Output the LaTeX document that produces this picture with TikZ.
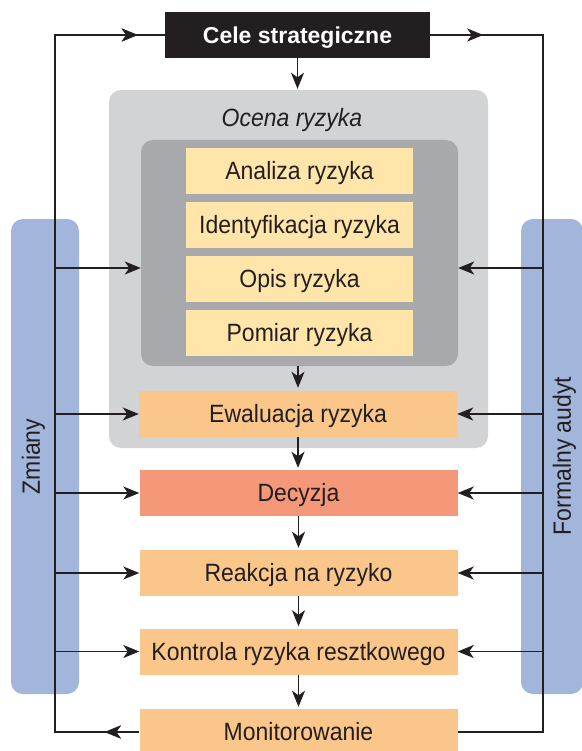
\documentclass[tikz,border=0pt]{standalone}
\usepackage{fontspec}
\setmainfont[FakeStretch=0.92]{Liberation Sans}
\newfontfamily\headfont{Liberation Sans}
\usetikzlibrary{arrows.meta,decorations.markings}

\definecolor{ink}{HTML}{231F20}
\definecolor{paleGray}{HTML}{D1D3D4}
\definecolor{midGray}{HTML}{A7A9AC}
\definecolor{paleYellow}{HTML}{FFE5A9}
\definecolor{softOrange}{HTML}{FBC68A}
\definecolor{salmon}{HTML}{F59879}
\definecolor{barBlue}{HTML}{A2B5DB}

\tikzset{
  bodytext/.style={font=\fontsize{25}{25}\selectfont, text=ink,
    text height=17.9pt, text depth=0pt, inner sep=0pt},
  stepbox/.style={bodytext, minimum width=318pt, minimum height=46pt},
  subbox/.style={bodytext, fill=paleYellow, minimum width=227pt, minimum height=46pt},
  sidebar/.style={fill=barBlue, rounded corners=12pt, inner sep=0pt},
  flow/.style={draw=ink, line width=1.8pt},
  tip/.tip={Stealth[length=16pt,width=13pt,inset=4.5pt]},
  arr/.style={flow, -{tip}},
  midtip/.style={postaction={decorate},
    decoration={markings, mark=at position #1 with {\arrow{tip}}}}
}

\begin{document}
\begin{tikzpicture}[x=1pt,y=-1pt]
  \useasboundingbox (0,0) rectangle (581,751);

  % side bars
  \node[sidebar, minimum width=68pt, minimum height=475pt] (zmbar) at (45,456.5) {};
  \node[sidebar, minimum width=62pt, minimum height=475pt] (aubar) at (552,456.5) {};
  \node[bodytext, rotate=90] (zmiany) at (31,456.5) {Zmiany};
  \node[bodytext, rotate=90] (audyt) at (562,456) {Formalny audyt};

  % top goal
  \node[fill=ink, text=white, inner sep=0pt, minimum width=265pt, minimum height=46pt,
        font=\headfont\bfseries\fontsize{23}{23}\selectfont,
        text height=16.5pt, text depth=0pt] (cele) at (297.5,35) {Cele strategiczne};

  % risk assessment group
  \node[fill=paleGray, rounded corners=12pt, inner sep=0pt,
        minimum width=379pt, minimum height=358pt] (ocena) at (298.5,269) {};
  \node[bodytext, font=\itshape\fontsize{25}{25}\selectfont] (ocenalbl) at (292,117.5) {Ocena ryzyka};
  \node[fill=midGray, rounded corners=12pt, inner sep=0pt,
        minimum width=317pt, minimum height=226pt] (analysis) at (299.5,253) {};
  \node[subbox] (analiza) at (299.5,171) {Analiza ryzyka};
  \node[subbox] (ident) at (299.5,225) {Identyfikacja ryzyka};
  \node[subbox] (opis) at (299.5,279) {Opis ryzyka};
  \node[subbox] (pomiar) at (299.5,333) {Pomiar ryzyka};
  \node[stepbox, fill=softOrange] (ewal) at (298,414) {Ewaluacja ryzyka};

  % process steps
  \node[stepbox, fill=salmon] (decyzja) at (298.5,493) {Decyzja};
  \node[stepbox, fill=softOrange] (reakcja) at (298.5,573) {Reakcja na ryzyko};
  \node[stepbox, fill=softOrange] (kontrola) at (298.5,651.5) {Kontrola ryzyka resztkowego};
  \node[stepbox, fill=softOrange] (monit) at (298.5,732) {Monitorowanie};

  % feedback rails
  \coordinate (xl) at (55,0);
  \coordinate (xr) at (543,0);
  \coordinate (yin) at (0,268);

  \draw[flow, line join=miter, midtip=34.5pt, midtip=864pt]
    (monit.west) -- (xl |- monit.west) -- (xl |- cele.west) -- (cele.west);
  \draw[flow, line join=miter, midtip=53pt]
    (cele.east) -- (xr |- cele.east) -- (xr |- monit.east) -- (monit.east);

  % inputs from both rails
  \draw[arr] (xl |- yin) -- (analysis.west |- yin);
  \draw[arr] (xr |- yin) -- (analysis.east |- yin);
  \foreach \n in {ewal,decyzja,reakcja,kontrola}{
    \draw[arr] (xl |- \n.west) -- (\n.west);
    \draw[arr] (xr |- \n.east) -- (\n.east);
  }

  % main flow downwards
  \draw[arr, shorten >=1pt] (cele.south) -- (cele.south |- ocena.north);
  \draw[arr, shorten >=3pt] (ewal.north |- analysis.south) -- (ewal.north);
  \draw[arr, shorten >=2pt] (ewal.south) -- (ewal.south |- decyzja.north);
  \draw[arr, shorten >=2pt] (decyzja.south) -- (reakcja.north);
  \draw[arr, shorten >=2pt] (reakcja.south) -- (kontrola.north);
  \draw[arr, shorten >=2pt] (kontrola.south) -- (monit.north);
\end{tikzpicture}
\end{document}
